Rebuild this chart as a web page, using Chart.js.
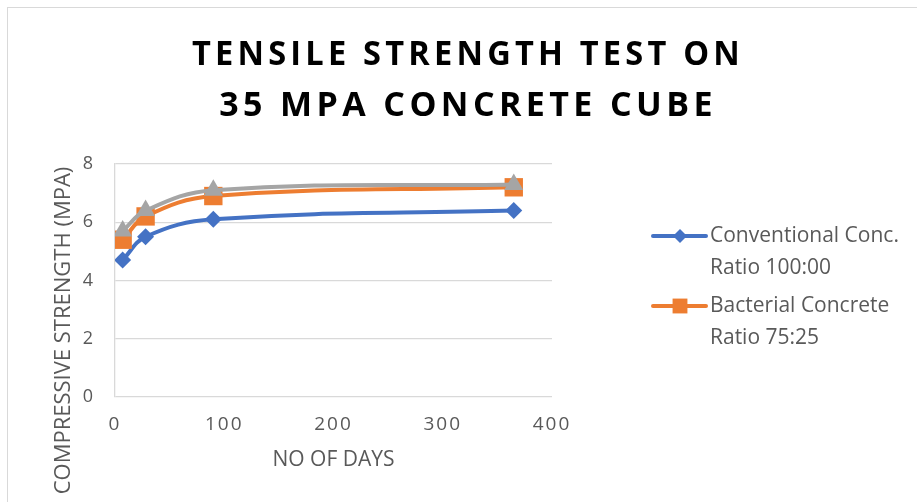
<!DOCTYPE html>
<html lang="en">
<head>
  <meta charset="UTF-8">
  <title>Tensile Strength Test</title>
  <script src="https://cdn.jsdelivr.net/npm/chart.js"></script>
  <style>
    html, body { margin: 0; padding: 0; background: #fff; overflow: hidden; }
    #wrap { position: relative; width: 917px; height: 502px; }
    #frame { position: absolute; left: 7px; top: 7px; width: 920px; height: 510px; border: 1px solid #d9d9d9; box-sizing: border-box; }
    canvas { position: absolute; left: 0; top: 0; }
  </style>
</head>
<body>
<div id="wrap">
  <div id="frame"></div>
  <canvas id="grafico" width="917" height="502"></canvas>
</div>

<script>
  // dados
  const dias = [7, 28, 90, 365];
  const convencional = [4.7, 5.5, 6.1, 6.4];
  const bacteriano = [5.4, 6.2, 6.9, 7.2];
  const terceiro = [5.7, 6.4, 7.1, 7.3];
  const xTicks = [0, 100, 200, 300, 400];
  const yTicks = [0, 2, 4, 6, 8];

  const nomes = ['Conventional Conc.\nRatio 100:00', 'Bacterial Concrete\nRatio 75:25', ''];
  const cores = ['#4472C4', '#ED7D31', '#A5A5A5'];
  const marcadores = ['rectRot', 'rect', 'triangle'];
  const tamanhos = [8.5, 13, 11];
  const tamanhosLegenda = [7, 10.5];

  const pontos = vals => dias.map((d, i) => ({ x: d, y: vals[i] }));
  const series = [convencional, bacteriano, terceiro];

  const datasets = series.map((s, i) => ({
    label: nomes[i],
    data: pontos(s),
    showLine: true,
    borderColor: cores[i],
    backgroundColor: cores[i],
    borderWidth: 4,
    tension: 0.4,
    pointStyle: marcadores[i],
    pointRadius: tamanhos[i],
    pointHoverRadius: tamanhos[i],
    pointBorderWidth: 0
  })).reverse();

  // espacamento entre letras no titulo e nos ticks do eixo x, e deslocamentos
  const ajustes = {
    id: 'ajustes',
    afterLayout(chart) {
      const wrap = (obj, fn, sp, shift) => {
        if (!obj || obj['_w_' + fn]) return;
        const orig = obj[fn];
        obj[fn] = function (...a) {
          const ctx = chart.ctx;
          ctx.save();
          ctx.letterSpacing = sp;
          const [dx, dy] = shift(this);
          ctx.translate(dx, dy);
          orig.apply(this, a);
          ctx.restore();
        };
        obj['_w_' + fn] = true;
      };
      wrap(chart.titleBlock, 'draw', '4.4px', b => [468 - (b.left + b.right) / 2, 0]);
      wrap(chart.scales.x, 'drawLabels', '2px', () => [0, 0]);
      wrap(chart.scales.y, 'drawTitle', '0px', () => [0, 50]);
    }
  };

  // legenda desenhada a direita
  const legenda = {
    id: 'legenda',
    afterDraw(chart) {
      const ctx = chart.ctx;
      ctx.save();
      ctx.font = '21px "Open Sans", sans-serif';
      ctx.textBaseline = 'middle';
      const linhas = [236, 306];
      for (let i = 0; i < 2; i++) {
        const y = linhas[i];
        ctx.strokeStyle = cores[i];
        ctx.lineWidth = 4;
        ctx.lineCap = 'round';
        ctx.beginPath();
        ctx.moveTo(653, y);
        ctx.lineTo(706, y);
        ctx.stroke();
        ctx.fillStyle = cores[i];
        Chart.helpers.drawPoint(ctx, { pointStyle: marcadores[i], radius: tamanhosLegenda[i], borderWidth: 0 }, 680, y);
        ctx.fillStyle = '#595959';
        nomes[i].split('\n').forEach((t, k) => ctx.fillText(t, 710, y + k * 32));
      }
      ctx.restore();
    }
  };

  const config = {
    type: 'scatter',
    data: { datasets },
    options: {
      responsive: false,
      animation: false,
      layout: { padding: { left: 0, right: 365, top: 0, bottom: 29 } },
      plugins: {
        legend: { display: false },
        tooltip: { enabled: false },
        title: {
          display: true,
          text: ['TENSILE STRENGTH TEST ON', '35 MPA CONCRETE CUBE'],
          color: '#000',
          font: { family: '"Open Sans", sans-serif', size: 34, weight: 'bold', lineHeight: 1.5 },
          padding: { top: 30, bottom: 32 }
        }
      },
      scales: {
        x: {
          type: 'linear',
          min: 0, max: 400,
          afterBuildTicks: s => { s.ticks = xTicks.map(v => ({ value: v })); },
          grid: { display: false, drawTicks: false },
          border: { display: false },
          ticks: { color: '#595959', font: { family: '"Open Sans", sans-serif', size: 19 }, padding: 16 },
          title: { display: true, text: 'NO OF DAYS', color: '#595959', font: { family: '"Open Sans", sans-serif', size: 21 }, padding: { top: -4, bottom: 0 } }
        },
        y: {
          min: 0, max: 8,
          afterBuildTicks: s => { s.ticks = yTicks.map(v => ({ value: v })); },
          grid: { color: '#d9d9d9', lineWidth: 1.3, drawTicks: false },
          border: { display: true, color: '#d9d9d9', width: 1.3 },
          ticks: { color: '#595959', font: { family: '"Open Sans", sans-serif', size: 18 }, padding: 22 },
          title: { display: true, text: 'COMPRESSIVE STRENGTH (MPA)', color: '#595959', font: { family: '"Open Sans", sans-serif', size: 22 }, padding: { top: 51 } },
          afterFit: s => { s.width = 115; }
        }
      }
    },
    plugins: [ajustes, legenda]
  };

  const ctx = document.getElementById('grafico').getContext('2d');
  new Chart(ctx, config);
</script>
</body>
</html>
